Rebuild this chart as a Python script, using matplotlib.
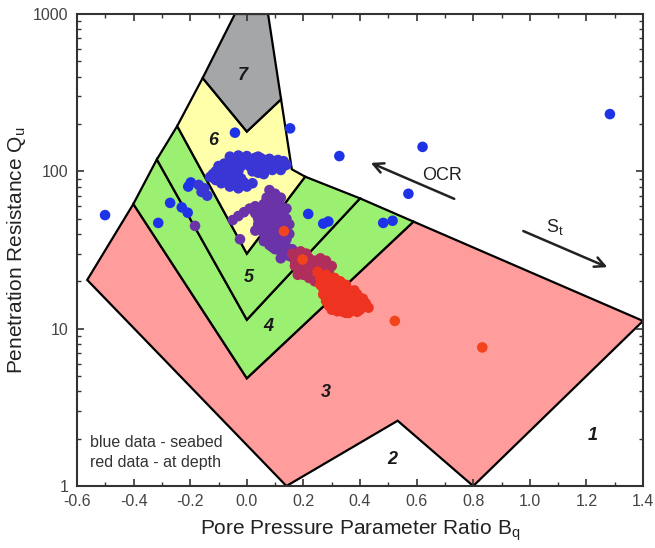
""" Bq classification chart - seabed vs depth data """

import matplotlib.pyplot as plt
from matplotlib.patches import Polygon
from matplotlib.ticker import MultipleLocator, FixedLocator, FuncFormatter

plt.rcParams['font.family'] = ['Liberation Sans', 'DejaVu Sans']

# * Zone boundary vertices (Bq, Qu)
zona_3 = [(-0.564, 20.4), (-0.401, 62), (0.0, 4.84), (0.589, 47.9), (1.4, 11.2),
          (0.8, 1.0), (0.533, 2.6), (0.14, 1.0)]
zona_4 = [(-0.401, 62), (-0.318, 119), (0.0, 11.4), (0.40, 67.3), (0.589, 47.9), (0.0, 4.84)]
zona_5 = [(-0.318, 119), (-0.246, 194), (0.0, 30), (0.206, 92.5), (0.40, 67.3), (0.0, 11.4)]
zona_6 = [(-0.246, 194), (-0.156, 392), (0.0, 179), (0.121, 287), (0.159, 103),
          (0.206, 92.5), (0.0, 30)]
zona_7 = [(-0.156, 392), (-0.042, 1000), (0.075, 1000), (0.121, 287), (0.0, 179)]

etiquetas_zona = ['1', '2', '3', '4', '5', '6', '7']
etiq_x = [1.223, 0.513, 0.278, 0.077, 0.006, -0.12, -0.015]
etiq_q = [2.1, 1.47, 3.93, 10.3, 21, 158, 409]

# * Seabed points (blue)
azul_x = [-0.501, -0.313, -0.271, -0.23, -0.209, -0.207, -0.198, -0.042, 0.153, 0.327,
          0.217, 0.27, 0.288, 0.482, 0.515, 0.571, 0.621, 1.283]
azul_q = [52.7, 47, 63, 59, 54.6, 80, 85, 176, 187.5, 125,
          53.6, 46.5, 48, 47, 48.5, 72, 143, 231]

# * Shallow cloud (blue-violet)
nube_x = [-0.11, -0.10, -0.08, -0.07, -0.05, -0.04, -0.02, -0.01, 0.00, 0.01, 0.02, 0.03,
          0.04, 0.05, 0.06, 0.07, 0.08, 0.09, 0.10, 0.11, 0.12, 0.13, 0.14, 0.02, 0.04,
          0.06, -0.03, -0.13, -0.11, -0.09, -0.07, -0.06, -0.04, -0.03, -0.01, 0.00,
          -0.08, -0.05, -0.16, -0.15, -0.14, -0.17, 0.02,
          -0.06, -0.03, 0.00, 0.03, 0.05, 0.08, 0.11, 0.13, -0.09, -0.05, -0.02, 0.01,
          0.04, 0.07, 0.10, -0.12, -0.10, -0.07, -0.04, -0.02, 0.08, 0.12]
nube_q = [100, 108, 112, 104, 118, 110, 122, 114, 120, 108, 118, 112,
          124, 115, 106, 118, 110, 102, 112, 106, 114, 108, 110, 100, 98,
          96, 100, 92, 88, 84, 86, 80, 82, 78, 85, 80,
          90, 92, 74, 78, 70, 82, 84,
          124, 126, 125, 122, 121, 120, 118, 116, 106, 104, 108, 113,
          110, 112, 116, 96, 94, 95, 88, 90, 104, 102]

# * Intermediate depth (purple)
morado_x = [0.08, 0.10, 0.07, 0.09, 0.11, 0.06, 0.08, 0.10, 0.12, 0.05, 0.07, 0.09, 0.11,
            0.13, 0.04, 0.06, 0.08, 0.10, 0.12, 0.14, 0.05, 0.07, 0.09, 0.11, 0.13, 0.15,
            0.06, 0.08, 0.10, 0.12, 0.07, 0.09, 0.11, 0.13, 0.10, 0.12, 0.14, 0.16, 0.15,
            0.18, 0.17, -0.05, -0.03, -0.01, 0.01, 0.03, -0.183, -0.024,
            0.03, 0.05, 0.07, 0.12, 0.14, 0.04, 0.03, 0.06, 0.09, 0.13, 0.11, 0.08,
            0.15, 0.12, 0.14, 0.06]
morado_q = [76, 72, 68, 66, 64, 62, 60, 58, 60, 56, 54, 52, 54,
            55, 50, 48, 47, 48, 49, 50, 44, 43, 42, 44, 45, 46,
            40, 39, 38, 40, 36, 35, 34, 36, 32, 31, 33, 32, 29,
            30, 27, 49, 52, 55, 58, 60, 45, 37,
            54, 58, 63, 68, 58, 46, 42, 36, 33, 41, 37, 34,
            40, 28, 37, 52]

# * Deeper (dark red)
granate_x = [0.16, 0.18, 0.20, 0.22, 0.24, 0.26, 0.28, 0.17, 0.19, 0.21, 0.23, 0.25, 0.27,
             0.29, 0.18, 0.20, 0.22, 0.24, 0.19, 0.21, 0.23, 0.26, 0.28, 0.30, 0.17,
             0.25, 0.27]
granate_q = [30, 28, 29, 28, 27, 26, 25, 25, 24, 25, 24, 23, 22,
             23, 22, 22, 21, 20, 31, 30, 26, 28, 27, 25, 27,
             25, 24]

# * At depth (red)
rojo_x = [0.25, 0.27, 0.29, 0.31, 0.26, 0.28, 0.30, 0.32, 0.34, 0.27, 0.29, 0.31, 0.33,
          0.35, 0.37, 0.28, 0.30, 0.32, 0.34, 0.36, 0.38, 0.40, 0.31, 0.33, 0.35, 0.37,
          0.39, 0.41, 0.42, 0.34, 0.37, 0.40, 0.36,
          0.26, 0.28, 0.30, 0.33, 0.35, 0.38, 0.27, 0.29, 0.32, 0.36, 0.39, 0.29,
          0.31, 0.34, 0.38, 0.41, 0.32, 0.35, 0.39, 0.33, 0.30, 0.43, 0.28]
rojo_q = [23, 21, 20, 21, 19, 18, 18, 19, 18, 16.5, 16, 16, 16.5,
          17, 16, 15, 14.5, 15, 15, 15, 15, 15, 13.5, 13.5, 13.8, 13.5,
          14, 14, 14.5, 12.8, 13, 13.2, 12.6,
          21, 22, 20, 20, 19, 17.5, 18, 17, 17.5, 17.5, 16.5, 14,
          15, 14.2, 14.2, 15.5, 12.9, 12.6, 12.8, 14.8, 13.2, 13.6, 16]

# * Isolated deep points (orange-red)
naranja_x = [0.131, 0.197, 0.523, 0.832]
naranja_q = [41.7, 27.5, 11.2, 7.6]


# * Figure
fig = plt.figure(figsize=(6.55, 5.48), dpi=100)
ax = fig.add_axes([0.1176, 0.1131, 0.8641, 0.8614])
ax.set_yscale('log')
ax.set_xlim(-0.6, 1.4)
ax.set_ylim(1, 1000)

colores = ['#ff9c9c', '#9cf071', '#9cf071', '#ffffaa', '#a5a6a8']
for verts, c in zip([zona_3, zona_4, zona_5, zona_6, zona_7], colores):
    ax.add_patch(Polygon(verts, closed=True, facecolor=c, edgecolor='black',
                         linewidth=1.6, zorder=1))

for t, x, q in zip(etiquetas_zona, etiq_x, etiq_q):
    ax.text(x, q, t, fontsize=13, fontweight='bold', fontstyle='italic',
            ha='center', va='center', color='#1a1a1a', zorder=2)

puntos = [
    (azul_x, azul_q, '#1f33e6'),
    (nube_x, nube_q, '#3a36d6'),
    (morado_x, morado_q, '#6a33a8'),
    (granate_x, granate_q, '#b02e5c'),
    (rojo_x, rojo_q, '#ee3420'),
    (naranja_x, naranja_q, '#f2441c'),
]
for xs, qs, c in puntos:
    ax.scatter(xs, qs, s=58, color=c, edgecolors='none', zorder=3)

# * Arrows
ax.annotate('', xy=(0.429, 115), xytext=(0.742, 65.8),
            arrowprops=dict(arrowstyle='->', color='#222222', lw=1.8,
                            mutation_scale=18), zorder=4)
ax.text(0.689, 94.6, 'OCR', fontsize=13, ha='center', va='center', color='#222222')
ax.annotate('', xy=(1.283, 24.2), xytext=(0.968, 42.4),
            arrowprops=dict(arrowstyle='->', color='#222222', lw=1.8,
                            mutation_scale=18), zorder=4)
ax.text(1.089, 44.5, 'S$_\\mathregular{t}$', fontsize=13, ha='center', va='center',
        color='#222222')

ax.text(-0.553, 1.88, 'blue data - seabed', fontsize=11.5, ha='left', va='center',
        color='#333333')
ax.text(-0.553, 1.42, 'red data - at depth', fontsize=11.5, ha='left', va='center',
        color='#333333')

# * Axes styling
ax.xaxis.set_major_locator(MultipleLocator(0.2))
ax.xaxis.set_minor_locator(MultipleLocator(0.1))
ax.xaxis.set_major_formatter(FuncFormatter(lambda v, p: f'{v:.1f}'))
ax.yaxis.set_major_locator(FixedLocator([1, 10, 100, 1000]))
ax.yaxis.set_major_formatter(FuncFormatter(lambda v, p: f'{v:g}'))
ax.tick_params(which='both', direction='in', top=True, right=True, color='#333333')
ax.tick_params(which='major', length=5, width=1.2, labelsize=11.5, labelcolor='#444444', pad=6)
ax.tick_params(which='minor', length=3, width=1.0)
for s in ax.spines.values():
    s.set_color('#333333')
    s.set_linewidth(1.5)

ax.set_xlabel('Pore Pressure Parameter Ratio B$_\\mathregular{q}$', fontsize=15,
              color='#222222', labelpad=6)
ax.set_ylabel('Penetration Resistance Q$_\\mathregular{u}$', fontsize=15,
              color='#222222', labelpad=4)

fig.savefig('out.png', dpi=100)
